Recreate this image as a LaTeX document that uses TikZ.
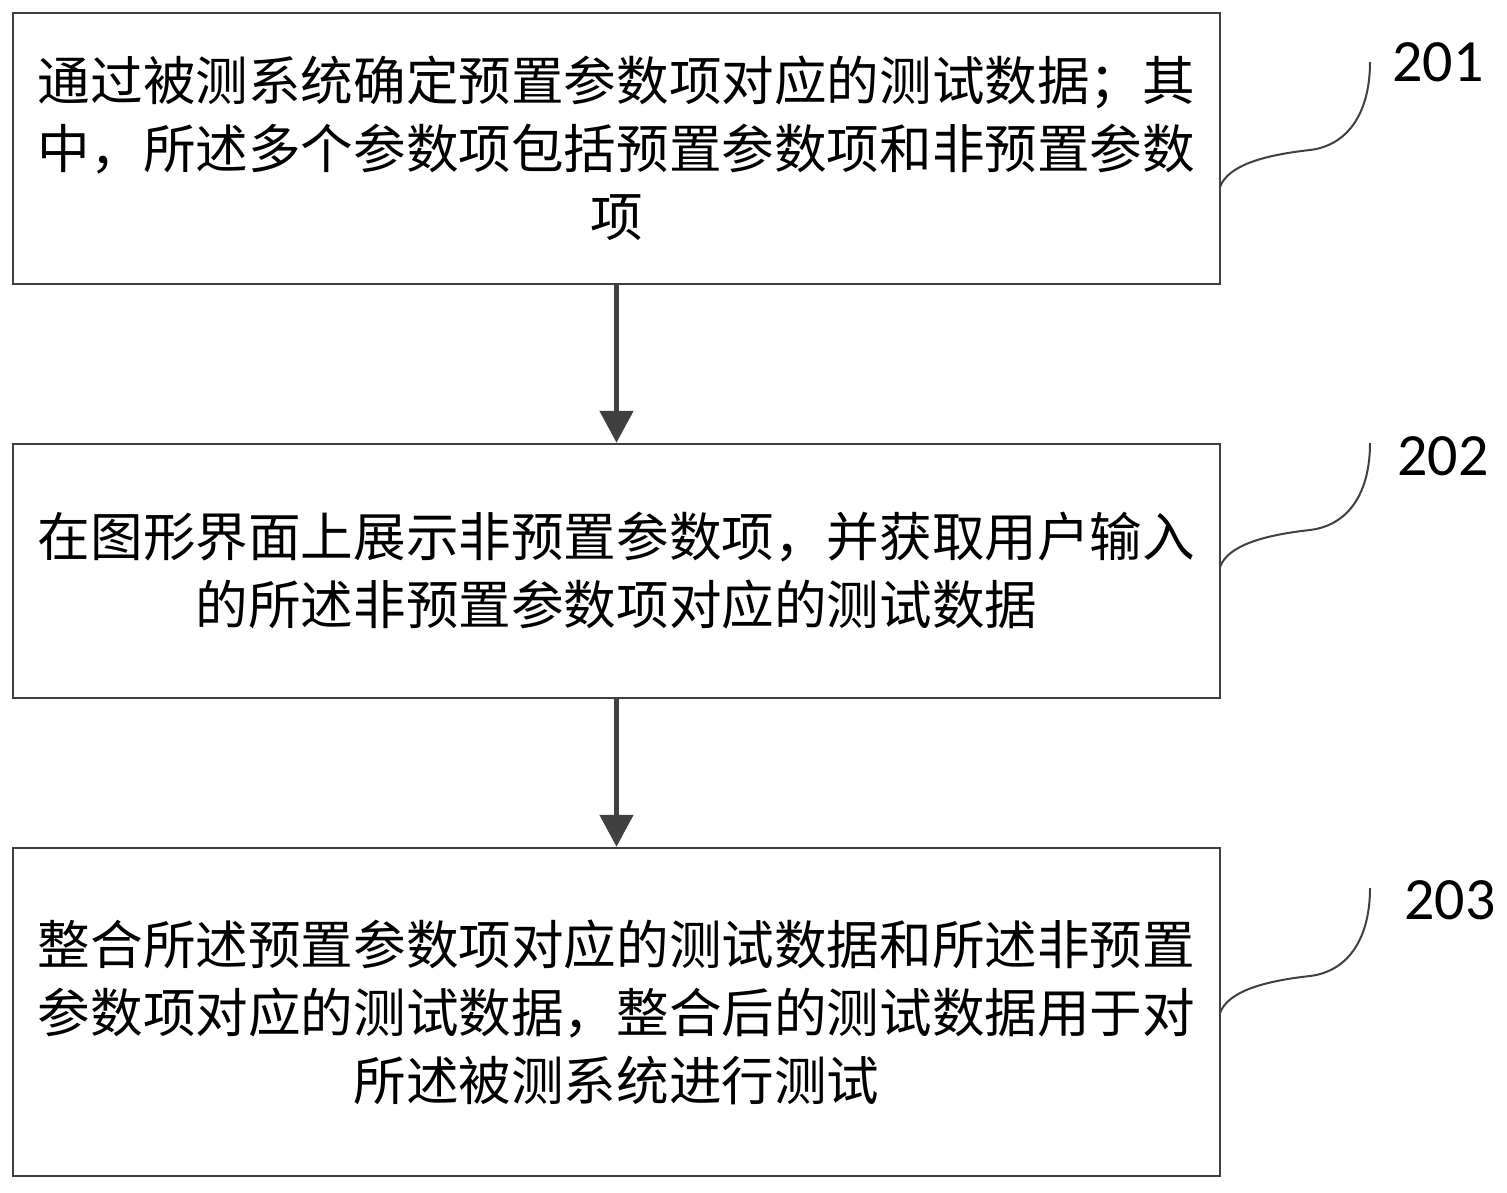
\documentclass[tikz,border=0pt]{standalone}
\usepackage{fontspec}
\newfontfamily\cjk{Noto Sans CJK SC}
\newfontfamily\labfont{Carlito}
\usetikzlibrary{arrows.meta,calc}
\definecolor{linegray}{HTML}{404040}
\begin{document}
\begin{tikzpicture}[x=1pt,y=-1pt,
  stepbox/.style={draw=linegray,line width=2.5pt,minimum width=1207pt,inner sep=0pt,align=center,
    font=\cjk\fontsize{52.6}{68}\selectfont},
  flowarrow/.style={draw=linegray,line width=5pt,-{Triangle[width=33pt,length=32pt]}},
  steplabel/.style={font=\labfont\fontsize{60}{60}\selectfont,inner sep=0pt},
  bracecurve/.style={draw=linegray,line width=2pt}]
\useasboundingbox (0,0) rectangle (1507,1192);
\node[stepbox,minimum height=271pt] (b1) at (616.5,148.5)
  {通过被测系统确定预置参数项对应的测试数据；其\\中，所述多个参数项包括预置参数项和非预置参数\\项};
\node[stepbox,minimum height=254pt] (b2) at (616.5,571)
  {在图形界面上展示非预置参数项，并获取用户输入\\的所述非预置参数项对应的测试数据};
\node[stepbox,minimum height=328pt] (b3) at (616.5,1012)
  {整合所述预置参数项对应的测试数据和所述非预置\\参数项对应的测试数据，整合后的测试数据用于对\\所述被测系统进行测试};
\draw[flowarrow] (b1.south) -- (b2.north);
\draw[flowarrow] (b2.south) -- (b3.north);
\node[steplabel] (l1) at (1438,62) {201};
\node[steplabel] (l2) at (1443,456) {202};
\node[steplabel] (l3) at (1450,900) {203};
\coordinate (c1s) at (1220,187);
\coordinate (c1e) at (1370,62);
\coordinate (c2s) at (1220,567);
\coordinate (c2e) at (1370,443);
\coordinate (c3s) at (1220,1013);
\coordinate (c3e) at (1370,888);
\foreach \s/\e in {c1s/c1e,c2s/c2e,c3s/c3e}{
  \draw[bracecurve] (\s) .. controls +(8,-22) and +(-45,5) .. ($(\s)+(90,-37)$)
    .. controls +(40,-5) and +(0,48) .. (\e);
}
\end{tikzpicture}
\end{document}
